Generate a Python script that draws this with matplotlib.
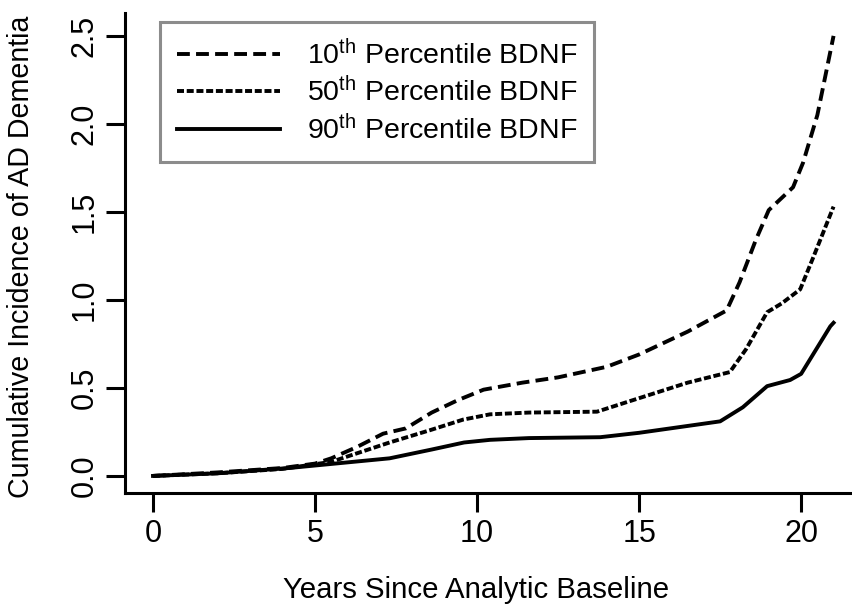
import matplotlib
matplotlib.use("Agg")
import matplotlib.pyplot as plt

plt.rcParams['font.family'] = ['Liberation Sans', 'DejaVu Sans']

# values
x10 = [0, 2, 4, 5, 5.5, 6.3, 7.1, 7.8, 8.6, 9.4, 10.2, 11.4, 12.5, 14.0, 15.0, 16.5, 17.7, 18.1, 18.6, 19.0, 19.75, 20.06, 20.5, 21.0]
y10 = [0, 0.02, 0.045, 0.07, 0.10, 0.165, 0.24, 0.27, 0.36, 0.43, 0.49, 0.53, 0.56, 0.62, 0.69, 0.82, 0.94, 1.10, 1.34, 1.51, 1.64, 1.78, 2.05, 2.50]

x50 = [0, 2, 4, 5.5, 7.3, 8.55, 9.57, 10.4, 11.6, 13.7, 14.8, 16.5, 17.8, 18.3, 18.95, 19.4, 19.97, 20.37, 21.0]
y50 = [0, 0.015, 0.04, 0.08, 0.19, 0.26, 0.32, 0.35, 0.36, 0.365, 0.43, 0.53, 0.59, 0.72, 0.93, 0.98, 1.06, 1.24, 1.53]

x90 = [0, 2, 4.2, 7.3, 8.6, 9.6, 10.4, 11.6, 13.8, 15.0, 17.5, 18.2, 18.95, 19.66, 20.0, 20.9, 21.0]
y90 = [0, 0.015, 0.045, 0.10, 0.15, 0.19, 0.205, 0.215, 0.22, 0.245, 0.31, 0.39, 0.51, 0.545, 0.58, 0.85, 0.87]

labels = ["10$\\mathregular{^{th}}$ Percentile BDNF",
          "50$\\mathregular{^{th}}$ Percentile BDNF",
          "90$\\mathregular{^{th}}$ Percentile BDNF"]
xticks = [0, 5, 10, 15, 20]
yticks = [0.0, 0.5, 1.0, 1.5, 2.0, 2.5]

fig = plt.figure(figsize=(8.53, 6.05), dpi=100)
ax = fig.add_axes([125/853, 1 - 493/605, 728/853, 480/605])

lw = 2.8
ax.plot(x10, y10, color="black", lw=lw, dashes=(3.3, 1.6), label=labels[0])
ax.plot(x50, y50, color="black", lw=lw, dashes=(1.8, 0.7), label=labels[1])
ax.plot(x90, y90, color="black", lw=lw, label=labels[2])

ax.set_xlim(-0.864, 21.6)
ax.set_ylim(-0.097, 2.63)
ax.set_xticks(xticks)
ax.set_xticklabels([str(t) for t in xticks])
ax.set_yticks(yticks)
ax.set_yticklabels([f"{t:.1f}" for t in yticks], rotation=90, va="center")

for s in ["top", "right"]:
    ax.spines[s].set_visible(False)
for s in ["left", "bottom"]:
    ax.spines[s].set_linewidth(2.2)

ax.tick_params(axis="both", length=13.5, width=2.2, labelsize=22)
ax.tick_params(axis="x", pad=5)
ax.tick_params(axis="y", pad=4.5)

ax.set_xlabel("Years Since Analytic Baseline", fontsize=21.2)
ax.set_ylabel("Cumulative Incidence of AD Dementia", fontsize=20.6)
ax.xaxis.set_label_coords(0.482, -0.172)
ax.yaxis.set_label_coords(-0.124, 0.492)

leg = ax.legend(loc="upper left", bbox_to_anchor=(0.048, 0.981), borderaxespad=0,
                fontsize=20.5, handlelength=3.6, handletextpad=0.95, labelspacing=0.25,
                fancybox=False, framealpha=1, borderpad=0.6)
leg.get_frame().set_edgecolor("#8c8c8c")
leg.get_frame().set_linewidth(2.2)

fig.savefig("out.png", dpi=100)
